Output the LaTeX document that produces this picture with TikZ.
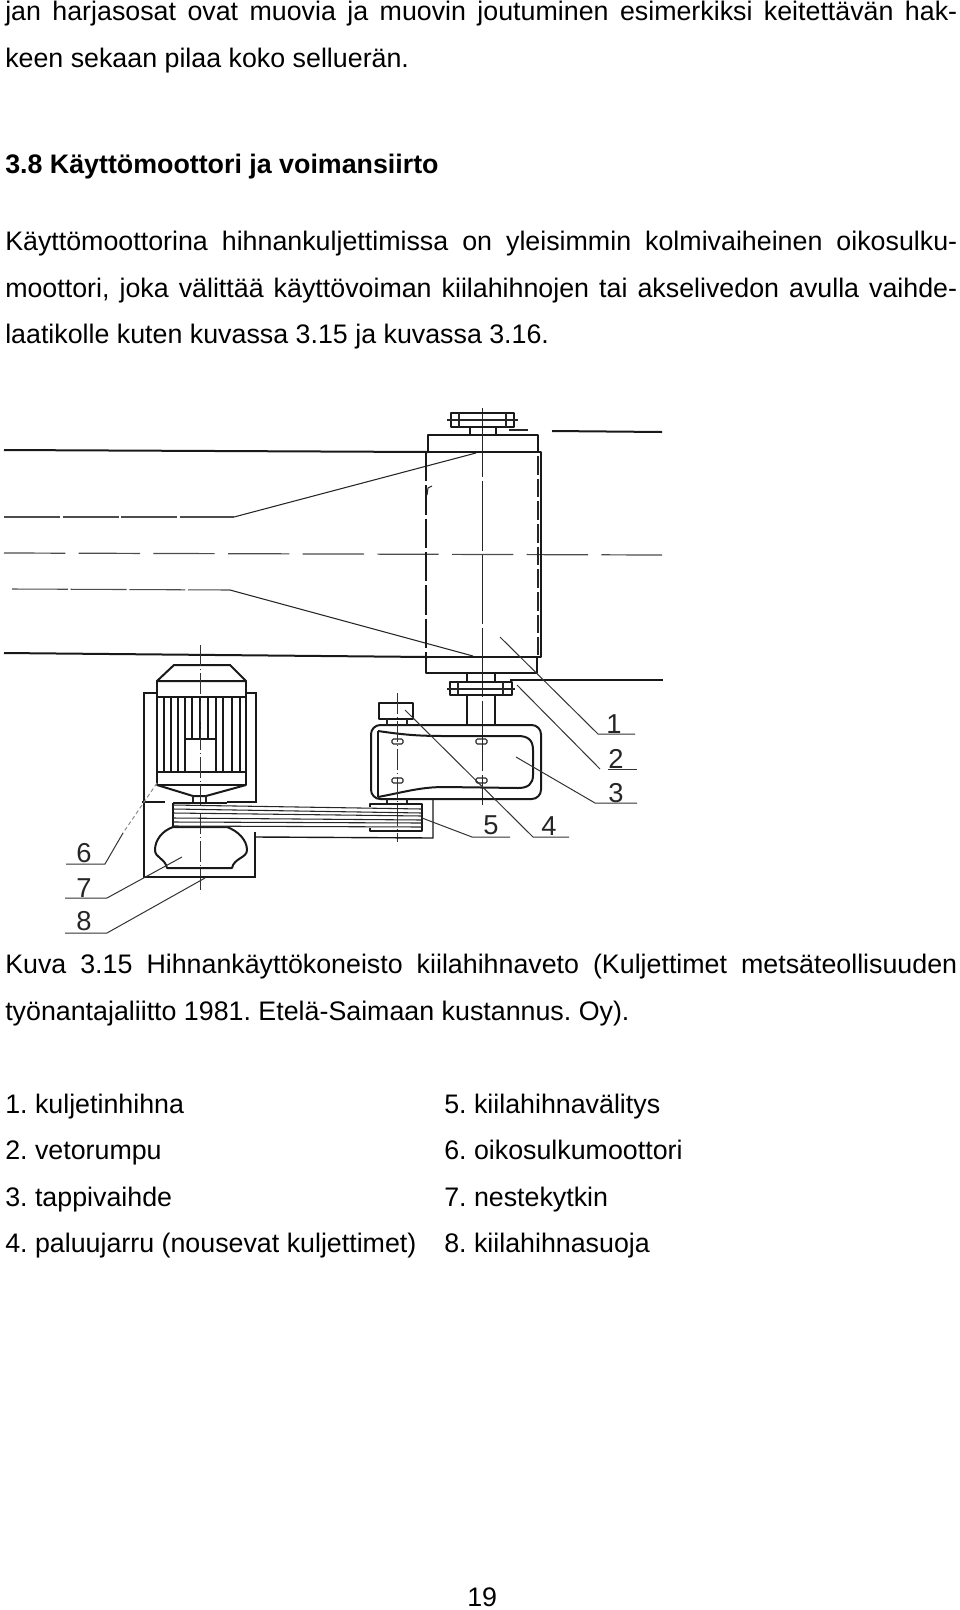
\documentclass[tikz,border=0pt]{standalone}
\usepackage{fontspec}
\setmainfont{Liberation Sans}
\usepackage{tikz}
\usetikzlibrary{positioning,calc}
\frenchspacing
\newcommand{\jline}[1]{\hbox to 714pt{#1}}
\tikzset{
	txt/.style={anchor=base west,inner sep=0pt,font=\fontsize{20.1}{24}\selectfont},
	num/.style={inner sep=0pt,font=\fontsize{20.5}{24}\selectfont,text=black!85},
	part/.style={draw=black!90,line width=1.5pt,line join=round},
	fin/.style={draw=black!90,line width=1.05pt},
	thin/.style={draw=black!85,line width=0.8pt},
	faint/.style={draw=black!70,line width=0.8pt,dash pattern=on 42pt off 2pt},
	axis/.style={draw=black!80,line width=0.65pt,dash pattern=on 16pt off 2pt on 1pt off 2pt},
	drumaxis/.style={draw=black!85,line width=0.7pt,dash pattern=on 52pt off 3pt},
	centreline/.style={draw=black!70,line width=0.9pt,dash pattern=on 46pt off 10pt},
	leader/.style={draw=black!80,line width=0.75pt},
}
\begin{document}
\begin{tikzpicture}[x=0.75pt,y=-0.75pt]
	\useasboundingbox (0,0) rectangle (960,1610);

	% text above
	\node[txt] at (5,20) (l1) {\jline{jan harjasosat ovat muovia ja muovin joutuminen esimerkiksi keitettävän hak-}};
	\node[txt] at (5,67) (l2) {keen sekaan pilaa koko selluerän.};
	\node[txt] at (5,173) (head) {\bfseries 3.8 Käyttömoottori ja voimansiirto};
	\node[txt] at (5,250) (l3) {\jline{Käyttömoottorina hihnankuljettimissa on yleisimmin kolmivaiheinen oikosulku-}};
	\node[txt] at (5,297) (l4) {\jline{moottori, joka välittää käyttövoiman kiilahihnojen tai akselivedon avulla vaihde-}};
	\node[txt] at (5,343) (l5) {laatikolle kuten kuvassa 3.15 ja kuvassa 3.16.};

	% conveyor
	\draw[part] (4,450) -- (428,452);
	\draw[part] (4,653) -- (428,657);
	\draw[faint] (4,517) -- (234,517);
	\draw[thin] (234,517) -- (476,453);
	\draw[faint] (12,589) -- (230,590);
	\draw[thin] (230,590) -- (473,656);
	\draw[centreline] (4,553) -- (662,555);
	\draw[part] (552,431) -- (662,432);
	\draw[thin] (509,430) -- (528,430);
	\draw[part] (510,680) -- (663,680);

	% drum
	\draw[part] (428,452) -- (428,435) -- (538,435) -- (538,452);
	\draw[part] (428,452) -- (541,452) -- (541,657) -- (426,657);
	\draw[part,dash pattern=on 22pt off 3pt] (426,452) -- (426,657);
	\draw[thin,dash pattern=on 14pt off 3pt] (538,456) -- (538,655);
	\draw[thin] (427,495) -- (428,488) -- (432,486);
	\draw[part] (426,657) -- (426,673) -- (537,673) -- (537,657);
	\draw[drumaxis] (482,408) -- (482,805);

	% flanges on the drum shaft
	\draw[part] (470,435) -- (470,427) (496,427) -- (496,435);
	\draw[part] (451,413) rectangle (514,427);
	\draw[thin] (459,413) -- (459,427) (506,413) -- (506,427);
	\draw[thin] (447,420) -- (518,420);
	\draw[part] (467,673) -- (467,682) (495,682) -- (495,673);
	\draw[part] (450,682) rectangle (512,695);
	\draw[thin] (458,682) -- (458,695) (503,682) -- (503,695);
	\draw[thin] (447,689) -- (515,689);
	\draw[part] (467,695) -- (467,725) (495,695) -- (495,725);

	% gear unit
	\draw[part,rounded corners=7pt] (371,725) rectangle (541,799);
	\draw[part] (378,731) .. controls (405,735) and (420,736) .. (445,736) -- (518,736)
		.. controls (528,736) and (533,740) .. (533,750) -- (533,775)
		.. controls (533,784) and (528,788) .. (518,788) -- (445,787)
		.. controls (420,787) and (405,792) .. (378,797);
	\draw[part] (378,731) -- (378,797);
	\foreach \sx in {392,476} {
		\draw[thin,rounded corners=1pt] (\sx,739) rectangle (\sx+11,744);
		\draw[thin,rounded corners=1pt] (\sx,778) rectangle (\sx+11,783);
	}
	\draw[part] (379,703) rectangle (413,719);
	\draw[thin] (387,719) -- (387,725) (407,719) -- (407,725);
	\draw[thin] (387,799) -- (387,804) (407,799) -- (407,804);
	\draw[axis] (397,693) -- (397,842);

	% motor
	\draw[part] (157,681) -- (174,665) -- (230,665) -- (246,681) -- cycle;
	\draw[part] (157,681) rectangle (246,697);
	\foreach \fx in {157,164,171,178,185,192,200,208,216,223,232,240,246} {
		\draw[fin] (\fx,697) -- (\fx,772);
	}
	\draw[part,fill=white] (185,739) rectangle (216,772);
	\draw[part] (157,772) rectangle (246,785);
	\draw[part] (157,785) -- (193,796) -- (206,796) -- (246,785);
	\draw[thin] (193,796) -- (193,803) (206,796) -- (206,803);
	\draw[axis] (200,645) -- (200,893);

	% frame
	\draw[fin] (157,693) -- (144,693) -- (144,877) -- (255,877) -- (255,832);
	\draw[fin] (246,693) -- (256,693) -- (256,802) -- (227,802);
	\draw[fin] (142,802) -- (165,802);
	\draw[fin] (256,837) -- (433,838) -- (433,799);

	% coupling
	\draw[part] (173,827) .. controls (162,831) and (155,840) .. (155,850)
		.. controls (155,858) and (165,858) .. (167,868) -- (232,868)
		.. controls (234,858) and (247,858) .. (247,850)
		.. controls (247,840) and (238,831) .. (227,827) -- cycle;

	% belt
	\draw[part] (173,803) -- (227,803);
	\draw[part] (173,803) -- (173,827);
	\draw[part] (370,807) -- (370,804) -- (422,804) -- (422,831) -- (370,831) -- (370,828);
	\foreach \ly/\ry in {805/809,809/813,813/816,818/820,822/823,826/827} {
		\draw[thin] (173,\ly) -- (422,\ry);
	}

	% labels and their leaders
	\node[num] at (614,724) (n1) {1};
	\node[num] at (616,759) (n2) {2};
	\node[num] at (616,793) (n3) {3};
	\node[num] at (549,826) (n4) {4};
	\node[num] at (491,825) (n5) {5};
	\node[num] at (84,853) (n6) {6};
	\node[num] at (84,888) (n7) {7};
	\node[num] at (84,921) (n8) {8};
	\draw[leader] (500,637) -- (598,734) -- (635,734);
	\draw[leader] (517,685) -- (600,769);
	\draw[leader] (608,769) -- (637,769);
	\draw[leader] (516,757) -- (595,803) -- (637,803);
	\draw[leader] (405,710) -- (533,837) -- (569,837);
	\draw[leader] (422,818) -- (472,837) -- (510,837);
	\draw[leader,densely dashed,draw=black!45] (157,783) -- (123,833);
	\draw[leader] (123,833) -- (105,864) -- (66,864);
	\draw[leader] (182,857) -- (107,898) -- (65,898);
	\draw[leader] (205,878) -- (107,933) -- (65,933);

	% text below
	\node[txt] at (5,973) (c1) {\jline{Kuva 3.15 Hihnankäyttökoneisto kiilahihnaveto (Kuljettimet metsäteollisuuden}};
	\node[txt] at (5,1020) (c2) {työnantajaliitto 1981. Etelä-Saimaan kustannus. Oy).};
	\node[txt] at (5,1113) (a1) {1. kuljetinhihna};
	\node[txt] at (5,1159) (a2) {2. vetorumpu};
	\node[txt] at (5,1206) (a3) {3. tappivaihde};
	\node[txt] at (5,1252) (a4) {4. paluujarru (nousevat kuljettimet)};
	\node[txt] at (444,1113) (b1) {5. kiilahihnavälitys};
	\node[txt] at (444,1159) (b2) {6. oikosulkumoottori};
	\node[txt] at (444,1206) (b3) {7. nestekytkin};
	\node[txt] at (444,1252) (b4) {8. kiilahihnasuoja};
	\node[txt] at (467,1606) (page) {19};
\end{tikzpicture}
\end{document}
